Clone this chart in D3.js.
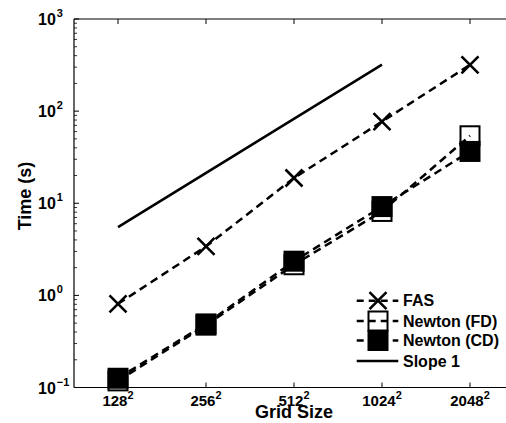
<!DOCTYPE html>
<html><head><meta charset="utf-8">
<script src="https://cdn.jsdelivr.net/npm/d3@7"></script>
<style>
html,body{margin:0;padding:0;background:#fff;}
svg{display:block;font-family:"Liberation Sans",Arial,Helvetica,sans-serif;font-weight:bold;}
</style></head>
<body>
<svg id="c" width="506" height="423"></svg>
<script>
const gridSizes = [128, 256, 512, 1024, 2048];
const gridLabels = ["128", "256", "512", "1024", "2048"];
const fasTimes = [0.81, 3.4, 18.8, 77, 318];
const newtonFDTimes = [0.118, 0.475, 2.15, 8.15, 54];
const newtonCDTimes = [0.126, 0.49, 2.35, 9.2, 36.5];
const slopeGrid = [128, 1024];
const slopeTimes = [5.5, 320];
const yTickExps = [-1, 0, 1, 2, 3];
const legendLabels = ["FAS", "Newton (FD)", "Newton (CD)", "Slope 1"];

const svg = d3.select("#c");
const L = 74, R = 514, T = 19, B = 387.5;
const x = d3.scaleLog().base(2).domain([128 / Math.SQRT2, 2048 * Math.SQRT2]).range([L, R]);
const y = d3.scaleLog().domain([0.1, 1000]).range([B, T]);

// axes frame
const g = svg.append("g");
g.append("line").attr("x1", L).attr("x2", R).attr("y1", T).attr("y2", T).attr("stroke", "#000").attr("stroke-width", 1.2);
g.append("line").attr("x1", L).attr("x2", R).attr("y1", B).attr("y2", B).attr("stroke", "#000").attr("stroke-width", 1.2);
g.append("line").attr("x1", L).attr("x2", L).attr("y1", T).attr("y2", B).attr("stroke", "#000").attr("stroke-width", 1.2);

// x ticks (inward, bottom and top)
gridSizes.forEach((n, i) => {
  const xp = x(n);
  g.append("line").attr("x1", xp).attr("x2", xp).attr("y1", B).attr("y2", B - 5).attr("stroke", "#000").attr("stroke-width", 1);
  g.append("line").attr("x1", xp).attr("x2", xp).attr("y1", T).attr("y2", T + 5).attr("stroke", "#000").attr("stroke-width", 1);
  const t = g.append("text").attr("x", xp).attr("y", B + 18).attr("text-anchor", "middle").attr("font-size", 15);
  t.append("tspan").text(gridLabels[i]);
  t.append("tspan").attr("dy", -7).attr("font-size", 11).text("2");
});

// y ticks: major + minor, inward
yTickExps.forEach(e => {
  const v = Math.pow(10, e);
  const yp = y(v);
  g.append("line").attr("x1", L).attr("x2", L + 5).attr("y1", yp).attr("y2", yp).attr("stroke", "#000").attr("stroke-width", 1);
  const t = g.append("text").attr("x", 38).attr("y", yp + 6).attr("font-size", 16);
  t.append("tspan").text("10");
  t.append("tspan").attr("dy", -8).attr("dx", 1).attr("font-size", 11).text(e < 0 ? "\u2212" + Math.abs(e) : String(e));
  if (e < 3) {
    for (let k = 2; k <= 9; k++) {
      const ym = y(k * v);
      g.append("line").attr("x1", L).attr("x2", L + 3).attr("y1", ym).attr("y2", ym).attr("stroke", "#000").attr("stroke-width", 0.8);
    }
  }
});

// axis titles
svg.append("text").attr("x", (L + R) / 2).attr("y", 418).attr("text-anchor", "middle").attr("font-size", 18).text("Grid Size");
svg.append("text").attr("transform", "translate(31," + 196 + ") rotate(-90)").attr("text-anchor", "middle").attr("font-size", 18).text("Time (s)");

const line = d3.line().x(d => x(d[0])).y(d => y(d[1]));
const lw = 2.5;
const dash = "8,5";
const sq = 19, xs = 8.5;

function drawX(sel, cx, cy) {
  sel.append("path").attr("d", `M${cx - xs},${cy - xs}L${cx + xs},${cy + xs}M${cx - xs},${cy + xs}L${cx + xs},${cy - xs}`)
    .attr("stroke", "#000").attr("stroke-width", 2.6).attr("fill", "none");
}
function drawSq(sel, cx, cy, filled) {
  sel.append("rect").attr("x", cx - sq / 2).attr("y", cy - sq / 2).attr("width", sq).attr("height", sq)
    .attr("fill", filled ? "#000" : "none").attr("stroke", "#000").attr("stroke-width", 2);
}

const plot = svg.append("g");
// slope line
plot.append("path").attr("d", line(slopeGrid.map((n, i) => [n, slopeTimes[i]])))
  .attr("fill", "none").attr("stroke", "#000").attr("stroke-width", lw);
// FAS
plot.append("path").attr("d", line(gridSizes.map((n, i) => [n, fasTimes[i]])))
  .attr("fill", "none").attr("stroke", "#000").attr("stroke-width", lw).attr("stroke-dasharray", dash);
gridSizes.forEach((n, i) => drawX(plot, x(n), y(fasTimes[i])));
// Newton FD
plot.append("path").attr("d", line(gridSizes.map((n, i) => [n, newtonFDTimes[i]])))
  .attr("fill", "none").attr("stroke", "#000").attr("stroke-width", lw).attr("stroke-dasharray", dash);
gridSizes.forEach((n, i) => drawSq(plot, x(n), y(newtonFDTimes[i]), false));
// Newton CD
plot.append("path").attr("d", line(gridSizes.map((n, i) => [n, newtonCDTimes[i]])))
  .attr("fill", "none").attr("stroke", "#000").attr("stroke-width", lw).attr("stroke-dasharray", dash);
gridSizes.forEach((n, i) => drawSq(plot, x(n), y(newtonCDTimes[i]), true));

// legend
const lg = svg.append("g");
const lx0 = 356.7, lx1 = 398.3, lmx = 378, ltx = 403;
const rows = [300.7, 321, 340.5, 361];
rows.forEach((ry, i) => {
  lg.append("line").attr("x1", lx0).attr("x2", lx1).attr("y1", ry).attr("y2", ry)
    .attr("stroke", "#000").attr("stroke-width", lw).attr("stroke-dasharray", i < 3 ? "7,5" : null);
  if (i === 0) drawX(lg, lmx, ry);
  if (i === 1) drawSq(lg, lmx, ry, false);
  if (i === 2) drawSq(lg, lmx, ry, true);
  lg.append("text").attr("x", ltx).attr("y", ry + 5.5).attr("font-size", 16).text(legendLabels[i]);
});
</script>
</body></html>
